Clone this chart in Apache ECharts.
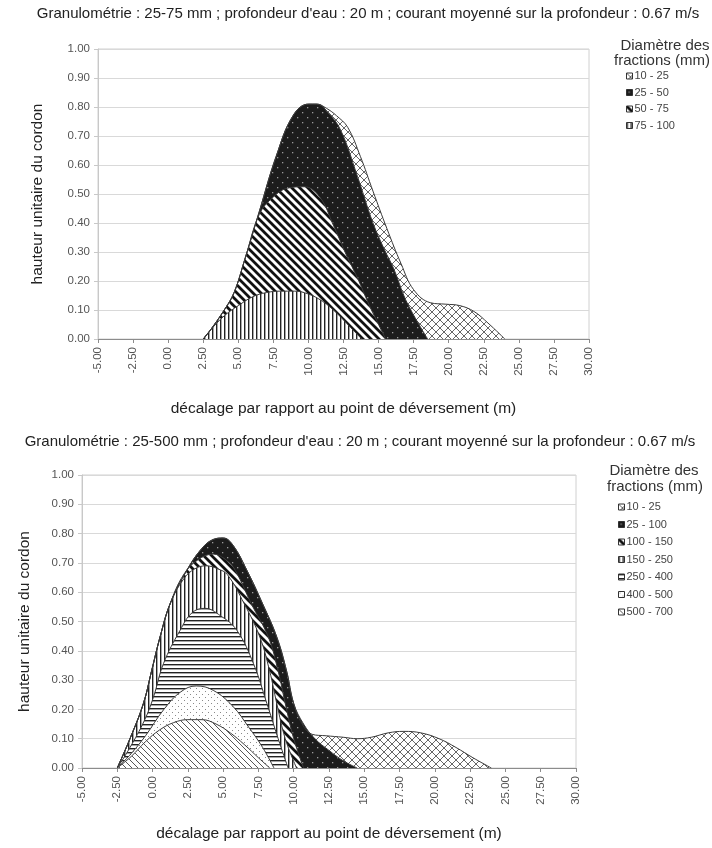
<!DOCTYPE html>
<html>
<head>
<meta charset="utf-8">
<script src="https://cdn.jsdelivr.net/npm/echarts@6/dist/echarts.min.js"></script>
<style>html,body{margin:0;padding:0;background:#fff;}#c{width:712px;height:848px;}</style>
</head>
<body>
<div id="c"></div>
<script>
// ---------- Data (top-of-band envelopes, [offset m, unit height]) ----------
const titleTop = "Granulométrie : 25-75 mm ; profondeur d'eau : 20 m ; courant moyenné sur la profondeur : 0.67 m/s";
const titleBottom = "Granulométrie : 25-500 mm ; profondeur d'eau : 20 m ; courant moyenné sur la profondeur : 0.67 m/s";
const xAxisName = "décalage par rapport au point de déversement (m)";
const yAxisName = "hauteur unitaire du cordon";
const legendTitle = ["Diamètre des", "fractions (mm)"];

const fractionsTop = ["10 - 25", "25 - 50", "50 - 75", "75 - 100"];
const top_10_25 = [[2.5,0],[3,0.03],[4,0.1],[4.7,0.16],[5.5,0.28],[6.5,0.44],[7.7,0.63],[8.9,0.77],[10,0.81],[10.6,0.81],[11.3,0.795],[12.0,0.77],[12.8,0.73],[13.7,0.63],[14.6,0.51],[15.6,0.38],[16.6,0.26],[17.5,0.17],[18.7,0.125],[19.8,0.12],[20.8,0.115],[21.8,0.095],[22.8,0.055],[24,0]];
const top_25_50 = [[2.5,0],[3,0.03],[4,0.1],[4.7,0.16],[5.5,0.28],[6.5,0.44],[7.7,0.63],[8.9,0.77],[10,0.81],[10.6,0.81],[11.4,0.78],[12.3,0.72],[13.5,0.56],[14.6,0.40],[15.4,0.31],[16.1,0.24],[16.8,0.15],[17.3,0.10],[18,0.04],[18.5,0]];
const top_50_75 = [[2.5,0],[3,0.03],[4,0.1],[4.7,0.16],[5.5,0.28],[6.5,0.43],[7.5,0.49],[8.5,0.52],[9.7,0.525],[10.8,0.49],[11.8,0.39],[12.7,0.29],[13.5,0.21],[14.3,0.12],[14.9,0.06],[15.5,0]];
const top_75_100 = [[2.5,0],[3,0.03],[4,0.08],[5,0.115],[6,0.145],[7,0.16],[8,0.165],[9,0.165],[10,0.155],[11,0.13],[12,0.09],[13,0.04],[13.8,0]];

const fractionsBottom = ["10 - 25 ", "25 - 100", "100 - 150", "150 - 250", "250 - 400", "400 - 500", "500 - 700"];
const bot_10_25 = [[-2.5,0],[-1.6,0.1],[-0.65,0.22],[-0.06,0.333],[0.53,0.447],[1.24,0.56],[2.43,0.675],[3.5,0.75],[4.3,0.78],[5.0,0.785],[5.7,0.76],[6.68,0.675],[7.8,0.56],[8.8,0.447],[9.5,0.33],[10.0,0.22],[10.6,0.15],[11.3,0.115],[12.3,0.11],[13.5,0.105],[14.5,0.1],[15.5,0.105],[16.7,0.12],[17.8,0.125],[19,0.12],[20.3,0.1],[21.5,0.07],[22.7,0.035],[24,0]];
const bot_25_100 = [[-2.5,0],[-1.6,0.1],[-0.65,0.22],[-0.06,0.333],[0.53,0.447],[1.24,0.56],[2.43,0.675],[3.5,0.75],[4.3,0.78],[5.0,0.785],[5.7,0.76],[6.68,0.675],[7.8,0.56],[8.8,0.447],[9.5,0.33],[10.0,0.22],[10.7,0.15],[11.5,0.10],[12.5,0.06],[13.5,0.025],[14.5,0]];
const bot_100_150 = [[-2.5,0],[-1.6,0.1],[-0.65,0.22],[-0.06,0.333],[0.53,0.447],[1.24,0.56],[2.2,0.66],[3.2,0.71],[4.3,0.73],[5.2,0.71],[5.85,0.675],[7.0,0.56],[8.2,0.447],[8.9,0.33],[9.4,0.22],[10.0,0.1],[10.7,0]];
const bot_150_250 = [[-2.5,0],[-1.6,0.1],[-0.65,0.22],[-0.06,0.333],[0.53,0.447],[1.24,0.56],[2.2,0.645],[3.0,0.68],[3.8,0.69],[4.6,0.68],[5.3,0.66],[6.5,0.56],[7.6,0.447],[8.3,0.33],[8.8,0.22],[9.4,0.1],[10.2,0]];
const bot_250_400 = [[-2.5,0],[-1.6,0.07],[-0.6,0.16],[0.05,0.24],[0.77,0.356],[1.95,0.47],[2.8,0.53],[3.7,0.545],[4.8,0.52],[5.97,0.47],[7.15,0.356],[8.1,0.22],[8.9,0.1],[9.6,0]];
const bot_400_500 = [[-2.5,0],[-1.5,0.05],[-0.5,0.11],[0.8,0.2],[2,0.26],[3.1,0.28],[4.3,0.265],[5.7,0.21],[6.8,0.14],[7.8,0.07],[8.6,0]];
const bot_500_700 = [[-2.5,0],[-1.5,0.04],[-0.5,0.09],[0.5,0.13],[1.5,0.155],[2.5,0.165],[3.5,0.165],[4.5,0.15],[5.5,0.12],[6.5,0.08],[7.5,0.035],[8.3,0]];

// ---------- Patterns ----------
function tile(size, bg, draw) {
  const c = document.createElement('canvas');
  c.width = size; c.height = size;
  const ctx = c.getContext('2d');
  ctx.fillStyle = bg; ctx.fillRect(0, 0, size, size);
  draw(ctx, size);
  return { image: c, repeat: 'repeat' };
}
function diag(ctx, s, color, lw, dir) {
  ctx.strokeStyle = color; ctx.lineWidth = lw; ctx.beginPath();
  if (dir === 'down') {
    ctx.moveTo(-2, -2); ctx.lineTo(s + 2, s + 2);
    ctx.moveTo(-2, s - 2); ctx.lineTo(2, s + 2);
    ctx.moveTo(s - 2, -2); ctx.lineTo(s + 2, 2);
  } else {
    ctx.moveTo(-2, s + 2); ctx.lineTo(s + 2, -2);
    ctx.moveTo(-2, 2); ctx.lineTo(2, -2);
    ctx.moveTo(s - 2, s + 2); ctx.lineTo(s + 2, s - 2);
  }
  ctx.stroke();
}
const P = {
  cross: tile(8, '#ffffff', (ctx, s) => { diag(ctx, s, '#666', 1, 'down'); diag(ctx, s, '#666', 1, 'up'); }),
  blackDots: tile(10, '#1c1c1c', (ctx) => { ctx.fillStyle = '#9a9a9a'; ctx.fillRect(2, 2, 1.3, 1.3); ctx.fillRect(7, 7, 1.3, 1.3); }),
  thickDiag: tile(8, '#ffffff', (ctx, s) => diag(ctx, s, '#111', 2.8, 'down')),
  vert: tile(4, '#ffffff', (ctx) => { ctx.fillStyle = '#222'; ctx.fillRect(0, 0, 1.4, 4); }),
  horiz: tile(4, '#ffffff', (ctx) => { ctx.fillStyle = '#222'; ctx.fillRect(0, 0, 4, 1.4); }),
  lightDots: tile(6, '#ffffff', (ctx) => { ctx.fillStyle = '#8a8a8a'; ctx.fillRect(1, 1, 1, 1); ctx.fillRect(4, 4, 1, 1); }),
  thinDiag: tile(6, '#ffffff', (ctx, s) => diag(ctx, s, '#555', 1, 'down'))
};

const FONT = 'Liberation Sans, Arial, sans-serif';
function area(name, data, pattern, gi) {
  return {
    name, type: 'line', data, xAxisIndex: gi, yAxisIndex: gi,
    smooth: 0.4, symbol: 'none', silent: true,
    lineStyle: { color: '#3a3a3a', width: 1 },
    itemStyle: { color: '#333' },
    areaStyle: { color: pattern, opacity: 1 }
  };
}
function xAxis(gi, gap) {
  return {
    type: 'value', gridIndex: gi, min: -5, max: 30, interval: 2.5,
    name: xAxisName, nameLocation: 'middle', nameGap: gap,
    nameTextStyle: { fontFamily: FONT, fontSize: 15.5, color: '#222' },
    axisLine: { onZero: false, lineStyle: { color: '#8c8c8c', width: 1 } },
    axisTick: { show: true, length: 4, lineStyle: { color: '#8c8c8c' } },
    splitLine: { show: false },
    axisLabel: { rotate: 90, margin: 8, fontFamily: FONT, fontSize: 11.5, color: '#555', formatter: v => v.toFixed(2) }
  };
}
function yAxis(gi, gap) {
  return {
    type: 'value', gridIndex: gi, min: 0, max: 1, interval: 0.1,
    name: yAxisName, nameLocation: 'middle', nameGap: gap, nameRotate: 90,
    nameTextStyle: { fontFamily: FONT, fontSize: 15.5, color: '#222' },
    axisLine: { show: true, onZero: false, lineStyle: { color: '#c8c8c8' } },
    axisTick: { show: true, length: 4, lineStyle: { color: '#c8c8c8' } },
    splitLine: { show: true, lineStyle: { color: '#d9d9d9', width: 1 } },
    axisLabel: { margin: 8, fontFamily: FONT, fontSize: 11.5, color: '#555', formatter: v => v.toFixed(2) }
  };
}
function legend(names, pats, left, top, gap) {
  return {
    orient: 'vertical', left, top, padding: 0, itemWidth: 6, itemHeight: 6, itemGap: gap, icon: 'rect', selectedMode: false,
    textStyle: { fontFamily: FONT, fontSize: 11, color: '#444', padding: [0, 0, 0, -3], lineHeight: 13 },
    data: names.map((n, i) => ({ name: n, itemStyle: { color: pats[i], borderColor: '#333', borderWidth: 1 } }))
  };
}
function text(str, x, y, align, size, color) {
  return { type: 'text', x, y, style: { text: str, fontFamily: FONT, fontSize: size, fill: color, textAlign: align, textVerticalAlign: 'middle' } };
}

const patsTop = [P.cross, P.blackDots, P.thickDiag, P.vert];
const patsBot = [P.cross, P.blackDots, P.thickDiag, P.vert, P.horiz, P.lightDots, P.thinDiag];
const topData = [top_10_25, top_25_50, top_50_75, top_75_100];
const botData = [bot_10_25, bot_25_100, bot_100_150, bot_150_250, bot_250_400, bot_400_500, bot_500_700];

const series = [];
fractionsTop.forEach((n, i) => series.push(area(n, topData[i], patsTop[i], 0)));
fractionsBottom.forEach((n, i) => series.push(area(n, botData[i], patsBot[i], 1)));

const chart = echarts.init(document.getElementById('c'), null, { renderer: 'canvas' });
chart.setOption({
  animation: false,
  backgroundColor: '#fff',
  grid: [
    { left: 98, top: 49, width: 491, height: 290, show: true, borderColor: '#d0d0d0', borderWidth: 1 },
    { left: 82, top: 475, width: 494, height: 293, show: true, borderColor: '#d0d0d0', borderWidth: 1 }
  ],
  xAxis: [xAxis(0, 62), xAxis(1, 58)],
  yAxis: [yAxis(0, 52), yAxis(1, 49)],
  legend: [
    legend(fractionsTop, patsTop, 626, 69.5, 3.5),
    legend(fractionsBottom, patsBot, 618, 500.5, 4.5)
  ],
  graphic: [
    text(titleTop, 368, 14, 'center', 15, '#222'),
    text(titleBottom, 360, 442, 'center', 15, '#222'),
    text(legendTitle[0], 665, 46, 'center', 15, '#333'),
    text(legendTitle[1], 662, 61, 'center', 15, '#333'),
    text(legendTitle[0], 654, 471, 'center', 15, '#333'),
    text(legendTitle[1], 655, 487, 'center', 15, '#333')
  ],
  series
});
</script>
</body>
</html>
